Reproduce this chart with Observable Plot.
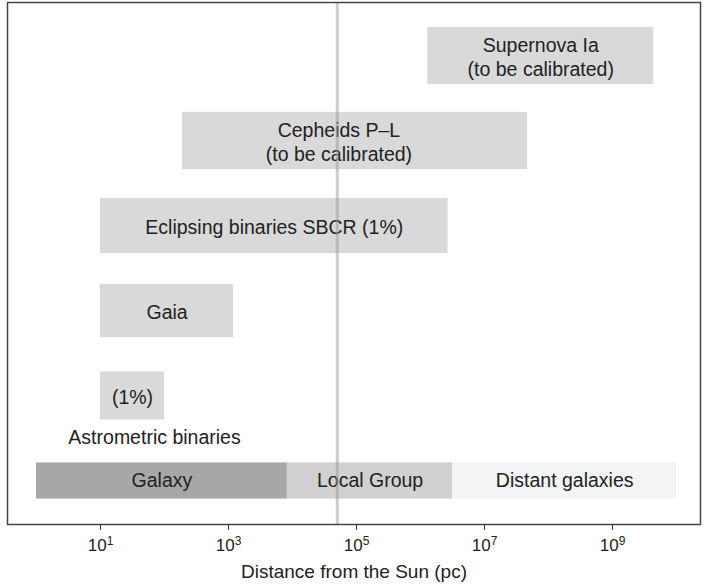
<!DOCTYPE html>
<html>
<head>
<meta charset="utf-8">
<script src="https://cdn.jsdelivr.net/npm/d3@7"></script>
<script src="https://cdn.jsdelivr.net/npm/@observablehq/plot@0.6"></script>
<style>
  html, body { margin: 0; padding: 0; background: #fff; }
  #chart { width: 708px; height: 585px; }
</style>
</head>
<body>
<div id="chart"></div>
<script>
// ---- data ----
const rows = ["Supernova Ia", "Cepheids P–L", "Eclipsing binaries SBCR", "Gaia", "Astrometric binaries", "Regions"];
const methodNames = ["Supernova Ia", "Cepheids P–L", "Eclipsing binaries SBCR", "Gaia", "Astrometric binaries"];
const methodLabels = ["Supernova Ia\n(to be calibrated)", "Cepheids P–L\n(to be calibrated)", "Eclipsing binaries SBCR (1%)", "Gaia", "(1%)"];
const methodStart = [1.3e6, 190, 10, 10, 10];
const methodEnd = [4.4e9, 4.7e7, 2.7e6, 1200, 100];
const regionNames = ["Galaxy", "Local Group", "Distant galaxies"];
const regionStart = [1, 8300, 3.2e6];
const regionEnd = [8300, 3.2e6, 1e10];
const lmcDistance = [5e4];
const xTicks = [10, 1e3, 1e5, 1e7, 1e9];
const xLabel = "Distance from the Sun (pc)";
const extraLabel = "Astrometric binaries";

// ---- styles ----
const boxHeights = [58, 58, 56, 54, 49];
const labelShift = [0, -16, 0, 0, 0];
const regionColors = ["#a7a7a7", "#d1d1d1", "#f3f4f6"];
const regionHeight = 37;
const font = "'Liberation Sans', Arial, Helvetica, sans-serif";
const textColor = "#222";

const yRange = [10.2, 525];
const bandW = (yRange[1] - yRange[0]) / rows.length;

const methods = methodNames.map((name, i) => ({
  name, label: methodLabels[i], x1: methodStart[i], x2: methodEnd[i]
}));
const regions = regionNames.map((name, i) => ({
  name, row: "Regions", x1: regionStart[i], x2: regionEnd[i], color: regionColors[i]
}));

const marks = [];
methods.forEach((d, i) => {
  const inset = (bandW - boxHeights[i]) / 2;
  marks.push(Plot.barX([d], {x1: "x1", x2: "x2", y: "name", fill: "#d9d9d9", insetTop: inset, insetBottom: inset}));
  marks.push(Plot.text([d], {
    x: d => Math.sqrt(d.x1 * d.x2), y: "name", text: "label",
    fontSize: 19.5, lineHeight: 1.24, fill: textColor, dx: labelShift[i]
  }));
});
const rInset = (bandW - regionHeight) / 2;
marks.push(Plot.barX(regions, {x1: "x1", x2: "x2", y: "row", fill: "color", insetTop: rInset, insetBottom: rInset}));
marks.push(Plot.text(regions, {x: d => Math.sqrt(d.x1 * d.x2), y: "row", text: "name", fontSize: 19.5, fill: textColor}));
// label under the astrometric box
marks.push(Plot.text([methods[4]], {
  x: d => Math.sqrt(d.x1 * d.x2), y: "name", text: () => extraLabel,
  fontSize: 19.5, fill: textColor, dx: 22, dy: 42
}));
marks.push(Plot.ruleX(lmcDistance, {stroke: "#999", strokeOpacity: 0.5, strokeWidth: 3}));
marks.push(Plot.frame({stroke: "#444", strokeWidth: 1.5}));
marks.push(Plot.axisX({
  ticks: xTicks, tickFormat: d => String(Math.round(Math.log10(d))),
  tickSize: 6, tickPadding: 8, fontSize: 17, label: null, stroke: "#333", color: textColor
}));
marks.push(Plot.text([xLabel], {frameAnchor: "bottom", dy: 53, fontSize: 19, fill: textColor, text: d => d}));

const plot = Plot.plot({
  width: 708,
  height: 585,
  marginLeft: 7,
  marginRight: 8,
  marginTop: 2,
  marginBottom: 61,
  style: {fontFamily: font, background: "#fff"},
  x: {type: "log", domain: [0.352, 2.37e10]},
  y: {type: "band", domain: rows, range: yRange, padding: 0, axis: null},
  marks
});

// turn exponent tick labels into 10 with a raised exponent
d3.select(plot).selectAll("g[aria-label='x-axis tick label'] text").each(function() {
  const t = d3.select(this);
  const e = t.text();
  t.text(null);
  t.append("tspan").text("10");
  t.append("tspan").attr("dy", "-0.45em").attr("font-size", "12").text(e);
});

document.getElementById("chart").appendChild(plot);
</script>
</body>
</html>
